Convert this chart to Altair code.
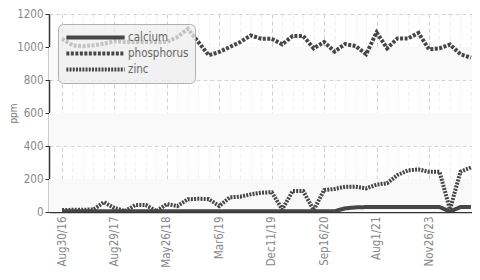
import altair as alt
import pandas as pd

tick_labels = ["Aug30/16", "Aug29/17", "May26/18", "Mar6/19", "Dec11/19",
               "Sep16/20", "Aug1/21", "Nov26/23"]
series_names = ["calcium", "phosphorus", "zinc"]
calcium = [5, 5, 5, 5, 5, 5, 5, 5, 5, 5, 5, 5, 5, 5, 5, 5, 5, 5, 5, 5,
           5, 5, 5, 5, 5, 5, 5, 22, 28, 30, 30, 30, 30, 30, 30, 30, 30, 3, 30, 30]
phosphorus = [1050, 1010, 1005, 1010, 1020, 1035, 1030, 1030, 1030, 1030,
              1030, 1060, 1110, 1030, 950, 970, 1000, 1030, 1070, 1050,
              1050, 1016, 1067, 1067, 992, 1030, 972, 1018, 1006, 956,
              1088, 992, 1052, 1052, 1085, 986, 992, 1015, 956, 935]
zinc = [12, 13, 14, 15, 60, 24, 6, 42, 42, 5, 48, 36, 77, 80, 78, 36, 89, 93,
        107, 117, 120, 16, 127, 127, 12, 133, 140, 153, 153, 143, 166, 174,
        224, 252, 258, 244, 244, 16, 244, 270]
band_lo = [0, 400, 800]
band_hi = [200, 600, 1000]

rows = []
for name, vals in zip(series_names, [calcium, phosphorus, zinc]):
    for i, v in enumerate(vals):
        rows.append({"i": i, "series": name, "ppm": v})
df = pd.DataFrame(rows)
bands = pd.DataFrame({"lo": band_lo, "hi": band_hi})

FONT = "'Liberation Sans Narrow', 'DejaVu Sans Condensed', Roboto, sans-serif"
label_js = "[" + ",".join('"%s"' % s for s in tick_labels) + "]"

xscale = alt.Scale(domain=[-1.24, 39.1], nice=False, zero=False)
yscale = alt.Scale(domain=[0, 1200], nice=False)

yaxis = alt.Axis(
    title="ppm", values=[0, 200, 400, 600, 800, 1000, 1200], grid=True,
    format="d", labelOverlap=False,
    gridDash=[4, 3], gridColor="#d5d5d5", tickColor="#333333", tickSize=4,
    domainColor="#333333", domainWidth=1.5, labelFont=FONT, labelFontSize=11.5,
    labelColor="#888888", titleFont=FONT, titleFontSize=10, titleColor="#777777",
    titleFontWeight="normal", titleX=-36, titleY=99, titleAngle=-90,
    titleAlign="center", titleBaseline="middle",
)

band_layer = alt.Chart(bands).mark_rect(color="#f9f9f9").encode(
    y=alt.Y("lo:Q", scale=yscale, axis=yaxis, title="ppm"),
    y2="hi:Q",
)

lines = alt.Chart(df).mark_line(color="#464646", clip=True).encode(
    x=alt.X("i:Q", scale=xscale, axis=alt.Axis(
        title=None, values=list(range(40)), grid=True, ticks=False,
        gridDash=[4, 3], labelOverlap=False,
        gridColor={"condition": {"test": "datum.value % 5 === 0", "value": "#cfcfcf"},
                   "value": "#efefef"},
        labelExpr="datum.value % 5 === 0 ? " + label_js + "[datum.value / 5] : ''",
        labelAngle=-90, labelFont=FONT, labelFontSize=11.5, labelColor="#888888",
        labelPadding=4, domainColor="#333333", domainWidth=1.5,
    )),
    y=alt.Y("ppm:Q", scale=yscale, axis=yaxis, title="ppm"),
    strokeDash=alt.StrokeDash("series:N", title=None, scale=alt.Scale(
        domain=series_names, range=[[1, 0], [3, 1.5], [2, 1.2]]),
        legend=alt.Legend(
            orient="none", legendX=9, legendY=10, symbolType="stroke",
            symbolSize=3400, clipHeight=15, symbolStrokeColor="#464646",
            labelFont=FONT, labelFontSize=11.5, labelColor="#666666",
            fillColor="rgba(238,238,238,0.75)", strokeColor="#b0b0b0",
            cornerRadius=5, padding=6, rowPadding=1, labelOffset=1)),
    strokeWidth=alt.StrokeWidth("series:N", title=None, scale=alt.Scale(
        domain=series_names, range=[4, 4, 2.2])),
    order="i:Q",
)

chart = alt.layer(band_layer, lines).properties(
    width=423, height=198,
    autosize=alt.AutoSizeParams(type="none"),
    padding={"left": 41, "top": 6, "right": 0, "bottom": 58},
).configure_view(stroke=None)

chart.save("out.html", embed_options={"renderer": "svg", "actions": False})
